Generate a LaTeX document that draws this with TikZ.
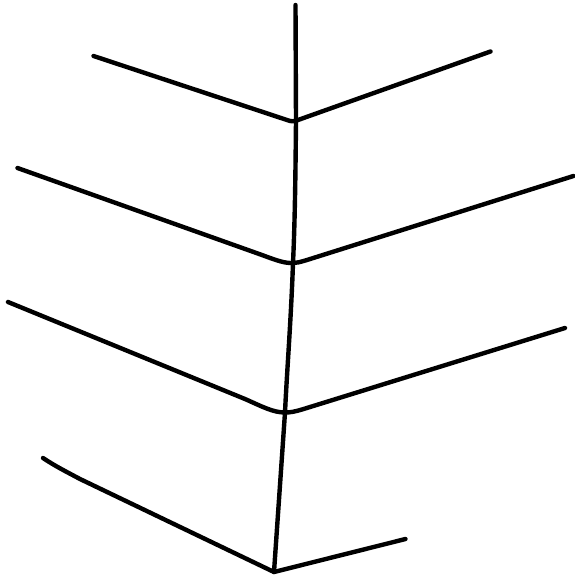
\documentclass[tikz,border=0pt]{standalone}
\begin{document}
\begin{tikzpicture}[x=1pt,y=-1pt,
  vein/.style={draw=black,line width=4.4pt,line cap=round,line join=round}]
\useasboundingbox (0,0) rectangle (575,578);
% spine points
\coordinate (top) at (295.5,5);
\coordinate (j1) at (296,121);
\coordinate (j2) at (293,263);
\coordinate (j3) at (285,412.5);
\coordinate (j4) at (274,572);
% spine
\draw[vein] (top) -- (j1) .. controls (295.5,170) and (295,220) .. (j2)
  .. controls (291,320) and (287,370) .. (j3) -- (j4);
% branch 1
\coordinate (l1) at (93.5,56);
\coordinate (r1) at (490.5,51.5);
\draw[vein] (l1) -- (287,120) .. controls (291,121.5) and (293,121.5) .. (j1)
  -- (298,120) -- (r1);
% branch 2
\coordinate (l2) at (17.5,168);
\coordinate (r2) at (573.5,176);
\draw[vein] (l2) -- (262,255) .. controls (278,261) and (285,263.3) .. (j2)
  .. controls (297,263) and (300,262) .. (306,260.3) -- (r2);
% branch 3
\coordinate (l3) at (8,302);
\coordinate (r3) at (565,328);
\draw[vein] (l3) -- (245,399) .. controls (262,406.5) and (273,412.5) .. (j3)
  .. controls (291,412.5) and (295,411.5) .. (302,409.5) -- (r3);
% branch 4
\coordinate (l4) at (43,458);
\coordinate (r4) at (405.5,539);
\draw[vein] (l4) .. controls (55,466) and (65,471) .. (80,479) -- (j4) -- (r4);
\end{tikzpicture}
\end{document}
